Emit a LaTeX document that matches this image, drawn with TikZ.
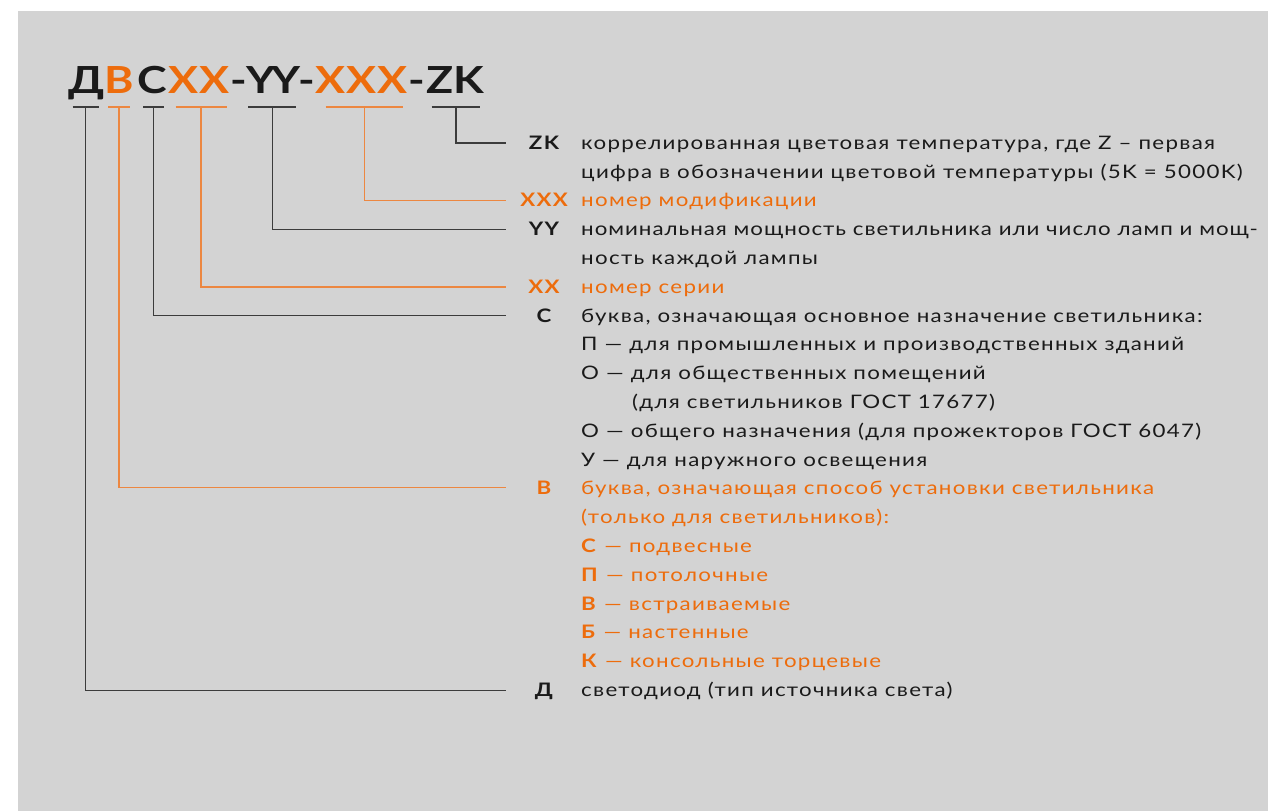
\documentclass[tikz,border=0pt]{standalone}
\usepackage{fontspec}
\setmainfont{Lato}[FakeStretch=1.2, LetterSpace=7]
\newfontfamily\headfont{Lato}[FakeStretch=1.2]
\definecolor{bg}{RGB}{211,211,211}
\definecolor{ora}{RGB}{237,108,12}
\definecolor{oraline}{RGB}{236,135,65}
\definecolor{txt}{RGB}{26,26,26}
\definecolor{ln}{RGB}{60,60,60}
\begin{document}
\begin{tikzpicture}[x=1pt,y=-1pt,
  hd/.style={font=\headfont\bfseries\fontsize{37.3}{37.3}\selectfont, inner sep=0pt, anchor=base, text=txt},
  hdo/.style={hd, text=ora},
  key/.style={font=\bfseries\fontsize{18.6}{18.6}\selectfont, inner sep=0pt, anchor=base, text=txt},
  keyo/.style={key, text=ora},
  desc/.style={font=\fontsize{18.6}{18.6}\selectfont, inner sep=0pt, anchor=base west, text=txt},
  desco/.style={desc, text=ora},
  bl/.style={draw=ln, line width=1.4pt},
  ol/.style={draw=oraline, line width=1.4pt}]
\useasboundingbox (0,0) rectangle (1268,811);
\fill[white] (0,0) rectangle (1268,811);
\fill[bg] (18,11) rectangle (1268,811);

% heading
\node[hd]  (h1)  at (86.3,93.3) {Д};
\node[hdo] (h2)  at (119,93.3) {В};
\node[hd]  (h3)  at (152,93.3) {С};
\node[hdo] (h4)  at (183.5,93.3) {X};
\node[hdo] (h5)  at (214.5,93.3) {X};
\node[hd]  (h6)  at (239,93.3) {-};
\node[hd]  (h7)  at (260.5,93.3) {Y};
\node[hd]  (h8)  at (285.5,93.3) {Y};
\node[hd]  (h9)  at (307,93.3) {-};
\node[hdo] (h10) at (330.5,93.3) {X};
\node[hdo] (h11) at (361.5,93.3) {X};
\node[hdo] (h12) at (392.5,93.3) {X};
\node[hd]  (h13) at (416.5,93.3) {-};
\node[hd]  (h14) at (440,93.3) {Z};
\node[hd]  (h15) at (468.5,93.3) {K};

% underline coordinates
\coordinate (uD) at (85.7,107);
\coordinate (uB) at (118.8,107);
\coordinate (uC) at (153.7,107);
\coordinate (uXX) at (200.8,107);
\coordinate (uYY) at (272.5,107);
\coordinate (uXXX) at (364.5,107);
\coordinate (uZK) at (455.8,107);
\draw[bl] (72.7,107) -- (99,107);
\draw[ol] (108,107) -- (129.5,107);
\draw[bl] (143,107) -- (164.3,107);
\draw[ol] (175.7,107) -- (226.7,107);
\draw[bl] (248,107) -- (296,107);
\draw[ol] (325.7,107) -- (403.3,107);
\draw[bl] (431.7,107) -- (480,107);

% keys
\node[key]  (kZK)  at (544,149.3) {ZK};
\node[keyo] (kXXX) at (544,206.9) {XXX};
\node[key]  (kYY)  at (544,235.7) {YY};
\node[keyo] (kXX)  at (544,293.3) {XX};
\node[key]  (kC)   at (544,322.1) {С};
\node[keyo] (kB)   at (544,494.9) {В};
\node[key]  (kD)   at (544,696.5) {Д};

% line ends
\coordinate (eZK)  at (506,142.8);
\coordinate (eXXX) at (506,200.4);
\coordinate (eYY)  at (506,229.2);
\coordinate (eXX)  at (506,286.8);
\coordinate (eC)   at (506,315.6);
\coordinate (eB)   at (506,487.6);
\coordinate (eD)   at (506,690.2);

\draw[bl] (uZK) |- (eZK);
\draw[ol] (uXXX) |- (eXXX);
\draw[bl] (uYY) |- (eYY);
\draw[ol] (uXX) |- (eXX);
\draw[bl] (uC) |- (eC);
\draw[ol] (uB) |- (eB);
\draw[bl] (uD) |- (eD);

% descriptions
\node[desc]  (d1)  at (581,149.3) {коррелированная цветовая температура, где Z – первая};
\node[desc]  (d2)  at (581,178.1) {цифра в обозначении цветовой температуры (5K = 5000K)};
\node[desco] (d3)  at (581,206.9) {номер модификации};
\node[desc]  (d4)  at (581,235.7) {\addfontfeatures{LetterSpace=5.3}номинальная мощность светильника или число ламп и мощ-};
\node[desc]  (d5)  at (581,264.5) {ность каждой лампы};
\node[desco] (d6)  at (581,293.3) {номер серии};
\node[desc]  (d7)  at (581,322.1) {буква, означающая основное назначение светильника:};
\node[desc]  (d8)  at (581,350.9) {П — для промышленных и производственных зданий};
\node[desc]  (d9)  at (581,379.7) {О — для общественных помещений};
\node[desc]  (d10) at (632,408.5) {(для светильников ГОСТ 17677)};
\node[desc]  (d11) at (581,437.3) {О — общего назначения (для прожекторов ГОСТ 6047)};
\node[desc]  (d12) at (581,466.1) {У — для наружного освещения};
\node[desco] (d13) at (581,494.9) {буква, означающая способ установки светильника};
\node[desco] (d14) at (581,523.7) {(только для светильников):};
\node[desco] (d15) at (581,552.5) {\textbf{С} — подвесные};
\node[desco] (d16) at (581,581.3) {\textbf{П} — потолочные};
\node[desco] (d17) at (581,610.1) {\textbf{В} — встраиваемые};
\node[desco] (d18) at (581,638.9) {\textbf{Б} — настенные};
\node[desco] (d19) at (581,667.7) {\textbf{К} — консольные торцевые};
\node[desc]  (d20) at (581,696.5) {светодиод (тип источника света)};
\end{tikzpicture}
\end{document}
